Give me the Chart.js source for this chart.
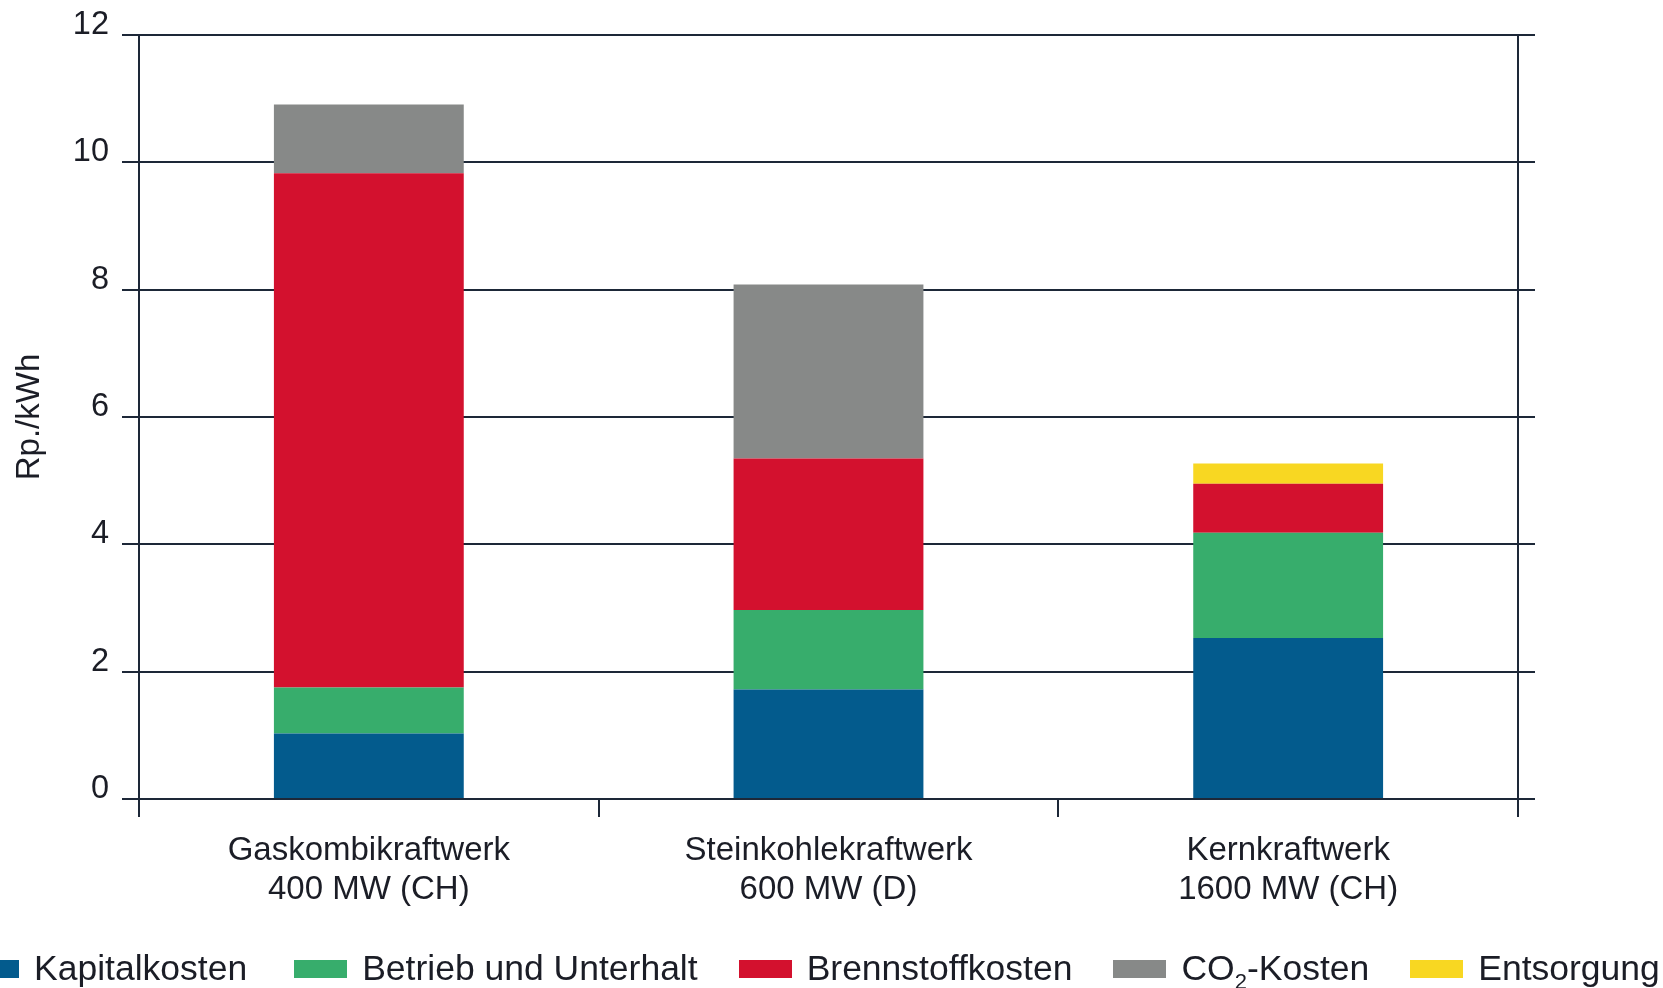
<!DOCTYPE html>
<html>
<head>
<meta charset="utf-8">
<script src="https://cdn.jsdelivr.net/npm/chart.js@4.4.1/dist/chart.umd.min.js"></script>
<style>
  body { margin: 0; background: #fff; overflow: hidden; }
  #wrap { position: relative; width: 1663px; height: 988px; }
  #legend {
    position: absolute; left: -34px; top: 948px;
    display: flex; align-items: center; white-space: nowrap;
    font-family: "Liberation Sans", Arial, sans-serif; font-size: 35.5px; color: #1b1d26;
  }
  #legend .item { display: flex; align-items: center; margin-right: 41px; }
  #legend .item:first-child { margin-right: 47px; }
  #legend .box { width: 53px; height: 18px; margin-right: 15px; }
  #legend sub { font-size: 22px; vertical-align: -9px; line-height: 0; }
</style>
</head>
<body>
<div id="wrap">
  <canvas id="costs-chart" width="1663" height="988"></canvas>
  <div id="legend"></div>
</div>
<script>
const categories = [
    ['Gaskombikraftwerk', '400 MW (CH)'],
    ['Steinkohlekraftwerk', '600 MW (D)'],
    ['Kernkraftwerk', '1600 MW (CH)']
];
const seriesNames = ['Kapitalkosten', 'Betrieb und Unterhalt', 'Brennstoffkosten', 'CO₂-Kosten', 'Entsorgung'];
const kapitalkosten = [1.03, 1.72, 2.53];
const betriebUnterhalt = [0.72, 1.25, 1.65];
const brennstoffkosten = [8.08, 2.38, 0.77];
const co2Kosten = [1.08, 2.73, 0];
const entsorgung = [0, 0, 0.32];
const yTicks = [0, 2, 4, 6, 8, 10, 12];

const colors = ['#035b8d', '#37ad6c', '#d3112e', '#878988', '#f8d722'];
const lineColor = '#1d2838';
const textColor = '#1b1d26';

const costsChart = document.getElementById('costs-chart');
const seriesValues = [kapitalkosten, betriebUnterhalt, brennstoffkosten, co2Kosten, entsorgung];

const chart = new Chart(costsChart, {
    type: 'bar',
    data: {
        labels: categories,
        datasets: seriesNames.map((name, i) => ({
            label: name,
            data: seriesValues[i],
            backgroundColor: colors[i],
            borderWidth: 0,
            categoryPercentage: 1,
            barPercentage: 0.413
        }))
    },
    options: {
        responsive: false,
        animation: false,
        layout: { padding: { top: 35, left: 0, right: 0, bottom: 0 } },
        plugins: {
            legend: { display: false },
            tooltip: { enabled: false }
        },
        scales: {
            x: {
                stacked: true,
                grid: {
                    offset: true,
                    drawOnChartArea: false,
                    drawTicks: true,
                    tickLength: 18,
                    color: lineColor,
                    lineWidth: 2
                },
                border: { display: true, color: lineColor, width: 2 },
                ticks: {
                    color: textColor,
                    padding: 14,
                    maxRotation: 0,
                    font: { family: 'Liberation Sans', size: 33, lineHeight: 1.2 }
                },
                afterFit: scale => { scale.height = 189; }
            },
            y: {
                stacked: true,
                min: 0,
                max: 12,
                afterBuildTicks: scale => { scale.ticks = yTicks.map(v => ({ value: v })); },
                grid: {
                    color: lineColor,
                    lineWidth: 2,
                    tickLength: 17
                },
                border: { display: true, color: lineColor, width: 2 },
                ticks: {
                    color: textColor,
                    padding: 13,
                    labelOffset: -10,
                    font: { family: 'Liberation Sans', size: 32.5 }
                },
                title: {
                    display: true,
                    text: 'Rp./kWh',
                    color: textColor,
                    padding: { top: 10, bottom: 0 },
                    font: { family: 'Liberation Sans', size: 33 }
                },
                afterFit: scale => { scale.width = 139; }
            },
            y2: {
                position: 'right',
                min: 0,
                max: 12,
                afterBuildTicks: scale => { scale.ticks = yTicks.map(v => ({ value: v })); },
                grid: {
                    drawOnChartArea: false,
                    color: lineColor,
                    lineWidth: 2,
                    tickLength: 17
                },
                border: { display: true, color: lineColor, width: 2 },
                ticks: { display: false },
                afterFit: scale => { scale.width = 145; }
            }
        }
    }
});

// html legend, it is wider than the canvas in the original
const legendEl = document.getElementById('legend');
chart.data.datasets.forEach(ds => {
    const item = document.createElement('div');
    item.className = 'item';
    const box = document.createElement('span');
    box.className = 'box';
    box.style.background = ds.backgroundColor;
    const label = document.createElement('span');
    label.innerHTML = ds.label.replace('₂', '<sub>2</sub>');
    item.appendChild(box);
    item.appendChild(label);
    legendEl.appendChild(item);
});
</script>
</body>
</html>
